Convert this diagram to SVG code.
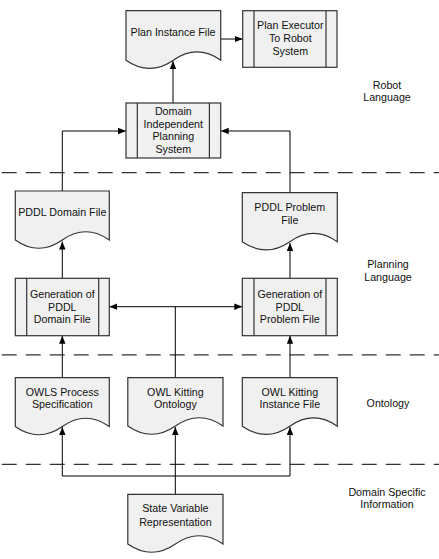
<svg xmlns="http://www.w3.org/2000/svg" width="439" height="559" viewBox="0 0 439 559">
<style>
.shape{fill:#f0f0f0;stroke:#333;stroke-width:1.2}
.inner{stroke:#333;stroke-width:1.2;fill:none}
.conn{stroke:#000;stroke-width:1;fill:none}
.dash{stroke:#333;stroke-width:1.3;stroke-dasharray:15 9;stroke-dashoffset:22.3;fill:none}
text{font-family:"Liberation Sans",Arial,sans-serif;font-size:10.7px;fill:#111;text-anchor:middle}
</style>
<defs>
<marker id="arr" markerUnits="userSpaceOnUse" markerWidth="8" markerHeight="8" viewBox="0 0 8 8" refX="8" refY="4" orient="auto-start-reverse">
<path d="M0,0.8 L8,4 L0,7.2 Z" fill="#000"/>
</marker>
</defs>
<rect width="439" height="559" fill="#fff"/>
<g id="lanes">
<line class="dash" x1="0" y1="172.7" x2="439" y2="172.7"/>
<line class="dash" x1="0" y1="354.8" x2="439" y2="354.8"/>
<line class="dash" x1="0" y1="464.3" x2="439" y2="464.3"/>
<text x="387" y="89">Robot</text>
<text x="387" y="101">Language</text>
<text x="388" y="267.5">Planning</text>
<text x="388" y="280.5">Language</text>
<text x="388" y="407">Ontology</text>
<text x="387" y="496">Domain Specific</text>
<text x="387" y="508">Information</text>
</g>
<g id="connectors">
<line class="conn" x1="220.7" y1="39" x2="242.7" y2="39" marker-end="url(#arr)"/>
<line class="conn" x1="173" y1="103" x2="173" y2="61" marker-end="url(#arr)"/>
<path class="conn" d="M62.3,191 V131 H126" marker-end="url(#arr)"/>
<path class="conn" d="M290,192.7 V131 H220.7" marker-end="url(#arr)"/>
<line class="conn" x1="62.3" y1="278.3" x2="62.3" y2="241.5" marker-end="url(#arr)"/>
<line class="conn" x1="290" y1="278.3" x2="290" y2="243" marker-end="url(#arr)"/>
<line class="conn" x1="109.3" y1="306.7" x2="242.3" y2="306.7" marker-start="url(#arr)" marker-end="url(#arr)"/>
<line class="conn" x1="175.3" y1="377.7" x2="175.3" y2="306.7"/>
<line class="conn" x1="62.3" y1="377.7" x2="62.3" y2="335.7" marker-end="url(#arr)"/>
<line class="conn" x1="290" y1="377.7" x2="290" y2="335.7" marker-end="url(#arr)"/>
<line class="conn" x1="175.3" y1="494.3" x2="175.3" y2="427" marker-end="url(#arr)"/>
<path class="conn" d="M175.3,476 H62.3 V427" marker-end="url(#arr)"/>
<path class="conn" d="M175.3,476 H290 V427" marker-end="url(#arr)"/>
</g>
<g id="plan-instance-file">
<path class="shape" d="M126,10.7 H220.7 V60.2 C204.9,49.2 189.1,49.2 173.35,60.2 C157.6,71.2 141.8,71.2 126,60.2 Z"/>
<text x="173" y="35.5">Plan Instance File</text>
</g>
<g id="plan-executor">
<rect class="shape" x="242.7" y="10.7" width="94.3" height="56.6"/>
<line class="inner" x1="254" y1="10.7" x2="254" y2="67.3"/>
<line class="inner" x1="326" y1="10.7" x2="326" y2="67.3"/>
<text x="290.3" y="29">Plan Executor</text>
<text x="290.3" y="41.5">To Robot</text>
<text x="290.3" y="54.5">System</text>
</g>
<g id="domain-independent-planning-system">
<rect class="shape" x="126" y="103" width="94.7" height="55"/>
<line class="inner" x1="137.3" y1="103" x2="137.3" y2="158"/>
<line class="inner" x1="209.4" y1="103" x2="209.4" y2="158"/>
<text x="173.3" y="115">Domain</text>
<text x="173.3" y="127.7">Independent</text>
<text x="173.3" y="140.4">Planning</text>
<text x="173.3" y="153">System</text>
</g>
<g id="pddl-domain-file">
<path class="shape" d="M15.3,191 H109.3 V240 C93.6,229 77.9,229 62.3,240 C46.6,251 30.9,251 15.3,240 Z"/>
<text x="62.3" y="215.5">PDDL Domain File</text>
</g>
<g id="pddl-problem-file">
<path class="shape" d="M242.3,192.7 H337.3 V241.7 C321.5,230.7 305.6,230.7 289.8,241.7 C274,252.7 258.1,252.7 242.3,241.7 Z"/>
<text x="289.8" y="210.5">PDDL Problem</text>
<text x="289.8" y="224">File</text>
</g>
<g id="generation-pddl-domain-file">
<rect class="shape" x="15.3" y="278.3" width="94" height="57.4"/>
<line class="inner" x1="26.7" y1="278.3" x2="26.7" y2="335.7"/>
<line class="inner" x1="98.7" y1="278.3" x2="98.7" y2="335.7"/>
<text x="62.3" y="298">Generation of</text>
<text x="62.3" y="310.5">PDDL</text>
<text x="62.3" y="323">Domain File</text>
</g>
<g id="generation-pddl-problem-file">
<rect class="shape" x="242.3" y="278.3" width="95" height="57.4"/>
<line class="inner" x1="254" y1="278.3" x2="254" y2="335.7"/>
<line class="inner" x1="326" y1="278.3" x2="326" y2="335.7"/>
<text x="289.8" y="298">Generation of</text>
<text x="289.8" y="310.5">PDDL</text>
<text x="289.8" y="323">Problem File</text>
</g>
<g id="owls-process-specification">
<path class="shape" d="M15.3,377.7 H109.3 V426.5 C93.6,415.5 77.9,415.5 62.3,426.5 C46.6,437.5 30.9,437.5 15.3,426.5 Z"/>
<text x="62.3" y="395.5">OWLS Process</text>
<text x="62.3" y="408">Specification</text>
</g>
<g id="owl-kitting-ontology">
<path class="shape" d="M127.8,377.7 H223 V426 C207.1,415 191.2,415 175.4,426 C159.6,437 143.7,437 127.8,426 Z"/>
<text x="175.4" y="395.5">OWL Kitting</text>
<text x="175.4" y="408">Ontology</text>
</g>
<g id="owl-kitting-instance-file">
<path class="shape" d="M242.3,377.7 H337.3 V426.2 C321.5,415.2 305.6,415.2 289.8,426.2 C274,437.2 258.1,437.2 242.3,426.2 Z"/>
<text x="289.8" y="395.5">OWL Kitting</text>
<text x="289.8" y="408">Instance File</text>
</g>
<g id="state-variable-representation">
<path class="shape" d="M127.8,494.3 H223 V544 C207.1,533 191.2,533 175.4,544 C159.6,555 143.7,555 127.8,544 Z"/>
<text x="175.4" y="512">State Variable</text>
<text x="175.4" y="525.5">Representation</text>
</g>
</svg>
